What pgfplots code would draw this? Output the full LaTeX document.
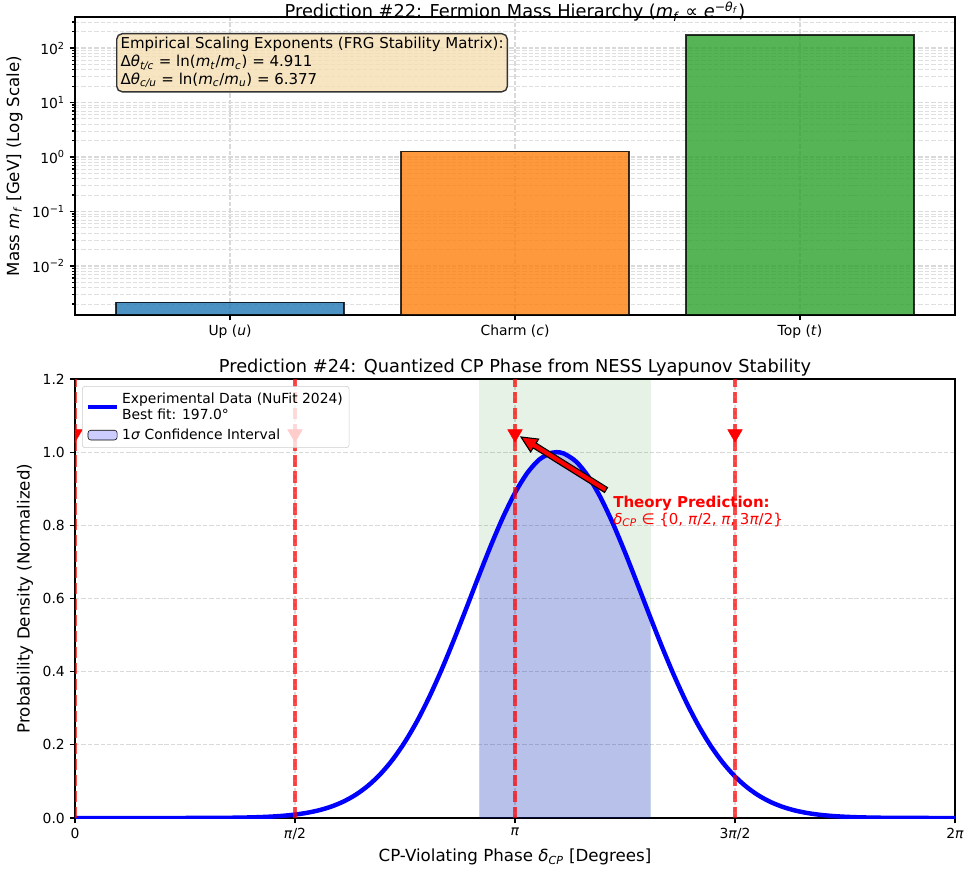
\documentclass[border=0pt]{standalone}
\usepackage{fontspec}
\setmainfont{DejaVu Sans}
\usepackage{pgfplots}
\pgfplotsset{compat=1.18}
\definecolor{cup}{HTML}{1F77B4}
\definecolor{ccharm}{HTML}{FF7F0E}
\definecolor{ctop}{HTML}{2CA02C}
\definecolor{wheat}{HTML}{F5DEB3}
\definecolor{mgreen}{RGB}{0,128,0}
\pgfplotsset{
  mylineleg/.style={legend image code/.code={\draw[##1] (0pt,0pt)--(21pt,0pt);}},
  myarealeg/.style={legend image code/.code={\fill[##1] (0pt,-3.5pt) rectangle (21pt,3.5pt);}},
  mpl/.style={
    scale only axis,
    tick align=outside,
    xtick pos=bottom, ytick pos=left,
    axis line style={line width=0.85pt},
    tick style={line width=0.85pt, black},
    major tick length=3.8pt, minor tick length=2.2pt,
    tick label style={font=\fontsize{10}{12}\selectfont},
    label style={font=\fontsize{12}{14.4}\selectfont},
    title style={font=\fontsize{12.8}{15.4}\selectfont, yshift=-7.5pt},
    major grid style={dash pattern=on 3.2pt off 1.4pt, line width=0.85pt, gray!30},
    minor grid style={dash pattern=on 3.2pt off 1.4pt, line width=0.6pt, gray!25},
  },
  vline/.style={red, opacity=0.7, line width=2.2pt, dash pattern=on 8pt off 3.5pt, forget plot},
}
\newcommand{\iz}[1]{\textit{#1}}
\begin{document}
\begin{tikzpicture}
\useasboundingbox (0,0) rectangle (699.12pt,-627.84pt);
% ---------------- top panel ----------------
\begin{axis}[mpl,
  at={(54pt,-12.24pt)}, anchor=north west,
  width=633.6pt, height=214.56pt,
  ymode=log, log origin=infty,
  xmin=-0.544, xmax=2.544, ymin=0.00126, ymax=371,
  xtick={0,1,2},
  xticklabels={Up (\iz{u}), Charm (\iz{c}), Top (\iz{t})},
  ytick={0.01,0.1,1,10,100},
  yticklabels={10\textsuperscript{−2},10\textsuperscript{−1},10\textsuperscript{0},10\textsuperscript{1},10\textsuperscript{2}},
  minor ytick={0.002,0.003,0.004,0.005,0.006,0.007,0.008,0.009,0.02,0.03,0.04,0.05,0.06,0.07,0.08,0.09,0.2,0.3,0.4,0.5,0.6,0.7,0.8,0.9,2,3,4,5,6,7,8,9,20,30,40,50,60,70,80,90,200,300},
  grid=both,
  ylabel={Mass \iz{m}\textsubscript{\iz{f}} [GeV] (Log Scale)},
  title style={yshift=-5pt},
  title={Prediction \#22: Fermion Mass Hierarchy (\iz{m}\textsubscript{\iz{f}} ∝ \iz{e}\textsuperscript{−\iz{θ}\textsubscript{\iz{f}}})},
]
\addplot[ybar, bar width=0.8, bar shift=0pt, fill=cup, fill opacity=0.8, draw=black, draw opacity=0.8, line width=1pt] coordinates {(0,0.00216)};
\addplot[ybar, bar width=0.8, bar shift=0pt, fill=ccharm, fill opacity=0.8, draw=black, draw opacity=0.8, line width=1pt] coordinates {(1,1.27)};
\addplot[ybar, bar width=0.8, bar shift=0pt, fill=ctop, fill opacity=0.8, draw=black, draw opacity=0.8, line width=1pt] coordinates {(2,172.69)};
\end{axis}
% ---------------- bottom panel ----------------
\begin{axis}[mpl,
  at={(54pt,-272.88pt)}, anchor=north west,
  width=633.6pt, height=316.08pt,
  xmin=0, xmax=360, ymin=0, ymax=1.2,
  clip marker paths=true,
  xtick={0,90,180,270,360},
  xticklabels={0,\iz{π}/2,\iz{π},3\iz{π}/2,2\iz{π}},
  ytick={0,0.2,0.4,0.6,0.8,1.0,1.2},
  yticklabel style={/pgf/number format/.cd, fixed, fixed zerofill, precision=1, assume math mode=true},
  grid=major,
  xlabel={CP-Violating Phase \iz{δ}\textsubscript{\iz{CP}} [Degrees]},
  ylabel={Probability Density (Normalized)},
  title={Prediction \#24: Quantized CP Phase from NESS Lyapunov Stability},
  legend style={at={(0.008,0.984)}, anchor=north west, draw=gray!40, fill=white, fill opacity=0.8, draw opacity=1, text opacity=1, rounded corners=2pt, font=\fontsize{10}{12}\selectfont, cells={anchor=west, align=left}, inner sep=2.5pt, row sep=1pt},
]
% 1 sigma band
\addplot[fill=mgreen, fill opacity=0.1, draw=none, forget plot] coordinates {(165.4,1.2)(235.5,1.2)} \closedcycle;
% fill under curve
\addplot[fill=blue, fill opacity=0.2, draw=none, forget plot] coordinates {
(165.4,0.6653)(170,0.7426)(175,0.8207)(180,0.8887)(185,0.9429)(190,0.9802)(195,0.9984)(197,1)(200,0.9963)(205,0.9742)(210,0.9333)(215,0.8761)(220,0.8058)(225,0.7261)(230,0.6412)(235,0.5547)(235.5,0.5461)} \closedcycle;
% curve
\addplot[blue, line width=3.2pt, smooth, forget plot] coordinates {
(0,0)(20,0)(40,0.00004)(50,0.00015)(60,0.00047)(65,0.00081)(70,0.00138)(75,0.0023)(80,0.00375)(85,0.00598)(90,0.00935)(95,0.01431)(100,0.02149)(105,0.03159)(110,0.04555)(115,0.0643)(120,0.08892)(125,0.1205)(130,0.1601)(135,0.2083)(140,0.2655)(145,0.3317)(150,0.4059)(155,0.4868)(160,0.5719)(165,0.6584)(170,0.7426)(175,0.8207)(180,0.8887)(185,0.9429)(190,0.9802)(195,0.9984)(197,1)(200,0.9963)(205,0.9742)(210,0.9333)(215,0.8761)(220,0.8058)(225,0.7261)(230,0.6412)(235,0.5547)(240,0.4702)(245,0.3905)(250,0.3177)(255,0.2533)(260,0.1979)(265,0.1515)(270,0.1136)(275,0.0835)(280,0.0601)(285,0.0424)(290,0.0293)(295,0.0198)(300,0.01317)(305,0.00856)(310,0.00545)(315,0.0034)(320,0.00208)(325,0.00125)(330,0.00073)(340,0.00024)(350,0.00007)(360,0.00002)};
% theory lines
\addplot[vline] coordinates {(0,0)(0,1.2)};
\addplot[vline] coordinates {(90,0)(90,1.2)};
\addplot[vline] coordinates {(180,0)(180,1.2)};
\addplot[vline] coordinates {(270,0)(270,1.2)};
\addplot[only marks, mark=triangle*, mark size=6pt, mark options={rotate=180, fill=red, draw=red}, forget plot] coordinates {(0,1.05)(90,1.05)(180,1.05)(270,1.05)};
% legend
\addlegendimage{mylineleg, blue, line width=3.2pt}
\addlegendentry{Experimental Data (NuFit 2024)\\Best fit: 197.0°}
\addlegendimage{myarealeg, fill=blue, fill opacity=0.2}
\addlegendentry{1\iz{σ} Confidence Interval}
\end{axis}
% ---------------- annotations (pixel frame) ----------------
\begin{scope}[x=0.72pt, y=-0.72pt]
\node[anchor=north west, draw=black!80, line width=1pt, rounded corners=4pt, fill=wheat, fill opacity=0.8, text opacity=1, inner sep=2.8pt, align=left, font=\fontsize{10.8}{12.8}\selectfont] at (116,33)
{Empirical Scaling Exponents (FRG Stability Matrix):\\
Δ\iz{θ}\textsubscript{\iz{t/c}} = ln(\iz{m}\textsubscript{\iz{t}}/\iz{m}\textsubscript{\iz{c}}) = 4.911\\
Δ\iz{θ}\textsubscript{\iz{c/u}} = ln(\iz{m}\textsubscript{\iz{c}}/\iz{m}\textsubscript{\iz{u}}) = 6.377};
\fill[red, draw=black, line width=0.8pt, line join=miter]
 (607.5,487.6) -- (536.1,443.1) -- (538.6,439.1) -- (521,437) -- (530.6,451.9) -- (533.1,447.9) -- (604.5,492.4) -- cycle;
\node[anchor=west, text=red, font=\fontsize{10.8}{13}\selectfont\bfseries, inner sep=0pt] at (613,503) {Theory Prediction:};
\node[anchor=west, text=red, font=\fontsize{10.8}{13}\selectfont, inner sep=0pt] at (613,520) {\iz{δ}\textsubscript{\iz{CP}} ∈ \{0, \iz{π}/2, \iz{π}, 3\iz{π}/2\}};
\end{scope}
\end{tikzpicture}
\end{document}
